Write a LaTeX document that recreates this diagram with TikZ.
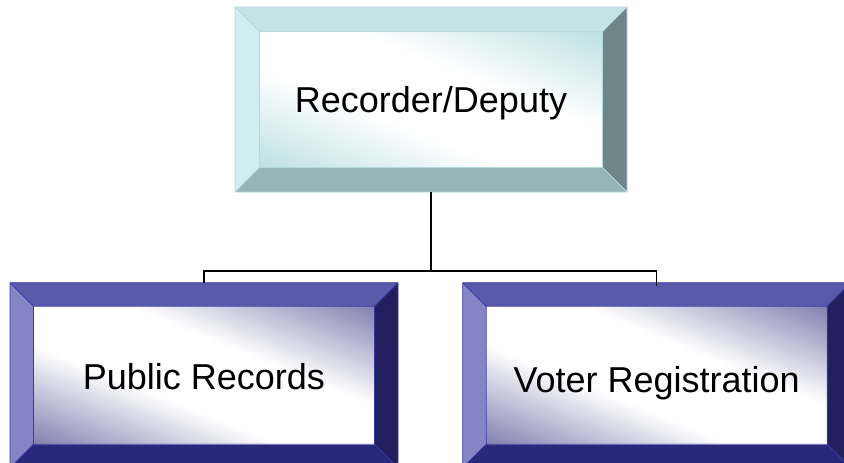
\documentclass[tikz,border=0pt]{standalone}
\usepackage{fontspec}
\setmainfont{Liberation Sans}

% bevel palettes: cyan head box and indigo sub boxes
\definecolor{tbTop}{HTML}{C4E4E7}
\definecolor{tbLeft}{HTML}{D2EDEF}
\definecolor{tbRight}{HTML}{6F8587}
\definecolor{tbBottom}{HTML}{97B3B6}
\definecolor{tbInner}{HTML}{BDE0E3}
\definecolor{tbEdge}{HTML}{B5DADE}
\definecolor{pbTop}{HTML}{5A5AAB}
\definecolor{pbLeft}{HTML}{8585C5}
\definecolor{pbRight}{HTML}{211F5E}
\definecolor{pbBottom}{HTML}{29287A}
\definecolor{pbInner}{HTML}{8080B0}
\definecolor{pbEdge}{HTML}{3A3AA5}

% soft glow across the face: tinted at both ends, broad white middle
% (the path's extent maps onto 25bp..75bp)
\pgfdeclareverticalshading{tbGlow}{100bp}{color(0bp)=(tbInner); color(25bp)=(tbInner);
  color(43bp)=(white); color(57bp)=(white); color(75bp)=(tbInner); color(100bp)=(tbInner)}
\pgfdeclareverticalshading{pbGlow}{100bp}{color(0bp)=(pbInner); color(25bp)=(pbInner);
  color(43bp)=(white); color(57bp)=(white); color(75bp)=(pbInner); color(100bp)=(pbInner)}

% #1,#2 top-left corner; #3,#4 bottom-right corner; #5 bevel width; #6 palette prefix
\newcommand\bevelframe[6]{%
  \fill[#6Top]    (#1,#2) -- (#3,#2) -- ({#3-#5},{#2+#5}) -- ({#1+#5},{#2+#5}) -- cycle;
  \fill[#6Left]   (#1,#2) -- ({#1+#5},{#2+#5}) -- ({#1+#5},{#4-#5}) -- (#1,#4) -- cycle;
  \fill[#6Right]  (#3,#2) -- (#3,#4) -- ({#3-#5},{#4-#5}) -- ({#3-#5},{#2+#5}) -- cycle;
  \fill[#6Bottom] (#1,#4) -- ({#1+#5},{#4-#5}) -- ({#3-#5},{#4-#5}) -- (#3,#4) -- cycle;
  % face: gradient runs corner to corner, white along the other diagonal
  \pgfmathsetmacro\facew{#3-#1-2*#5}%
  \pgfmathsetmacro\faceh{#4-#2-2*#5}%
  \pgfmathsetmacro\facecx{(#1+#3)/2}%
  \pgfmathsetmacro\facecy{(#2+#4)/2}%
  \pgfmathsetmacro\facetilt{atan(\faceh/\facew)}%
  \pgfmathsetmacro\facereach{\facew/veclen(\facew,\faceh)*\faceh}%
  \begin{scope}
    \clip ({#1+#5},{#2+#5}) rectangle ({#3-#5},{#4-#5});
    \begin{scope}[transform canvas={shift={(\facecx,\facecy)}, rotate=-\facetilt}]
      \shade[shading=#6Glow] (-400,-\facereach) rectangle (400,\facereach);
    \end{scope}
  \end{scope}
  \draw[#6Edge, line width=0.8pt]
    (#1,#2) rectangle (#3,#4)
    ({#1+#5},{#2+#5}) rectangle ({#3-#5},{#4-#5})
    (#1,#2) -- ({#1+#5},{#2+#5}) (#3,#2) -- ({#3-#5},{#2+#5})
    (#1,#4) -- ({#1+#5},{#4-#5}) (#3,#4) -- ({#3-#5},{#4-#5});
}

\tikzset{
  label box/.style={rectangle, inner sep=0pt, text=black,
    text height=26pt, text depth=0pt,
    font=\fontsize{36}{43}\selectfont},
  head box/.style={label box, minimum width=392pt, minimum height=185pt},
  sub box/.style={label box, minimum width=388pt, minimum height=185pt},
  connector/.style={draw=black, line width=1.3pt},
}

\begin{document}
\begin{tikzpicture}[x=1pt, y=-1pt]
  \useasboundingbox (0,0) rectangle (844,463);
  \clip (0,0) rectangle (844,463);

  % framed panels
  \bevelframe{235}{7}{627}{192}{24.5}{tb}
  \bevelframe{10}{282.7}{398}{467.7}{23.5}{pb}
  \bevelframe{462.7}{282.7}{850.7}{467.7}{23.5}{pb}

  % labels sitting on the panels
  \node[head box] (head)   at (431,99.5)   {Recorder/Deputy};
  \node[sub box]  (pubrec) at (204,376)    {Public Records};
  \node[sub box]  (voter)  at (656.7,379)  {Voter Registration};

  % org-chart connectors
  \coordinate (bus) at (431,271);
  \draw[connector] (head.south) -- (head.south |- bus) -| (pubrec.north);
  \draw[connector] (head.south |- bus) -| (voter.north);
\end{tikzpicture}
\end{document}
